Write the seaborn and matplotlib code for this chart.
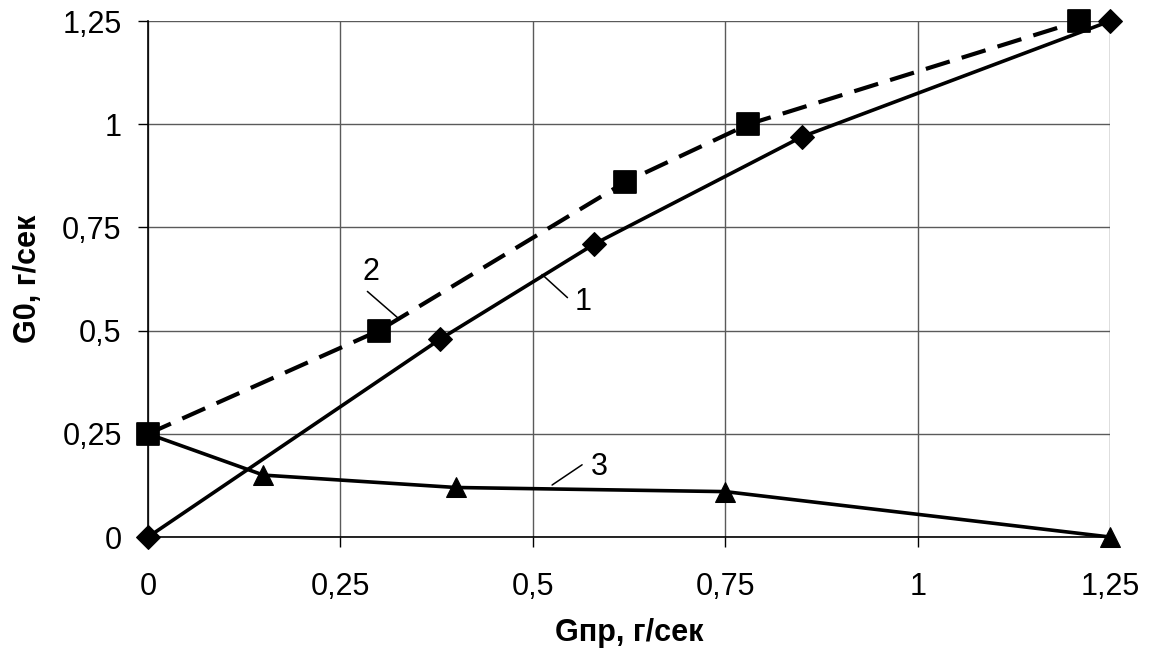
import matplotlib
matplotlib.use("Agg")
import numpy as np
import pandas as pd
import seaborn as sns
import matplotlib.pyplot as plt

# curve 1 (diamonds), curve 2 (squares, dashed), curve 3 (triangles)
g1_x = [0, 0.38, 0.58, 0.85, 1.25]
g1_y = [0, 0.48, 0.71, 0.97, 1.25]
g2_x = [0, 0.30, 0.62, 0.78, 1.21]
g2_y = [0.25, 0.50, 0.86, 1.00, 1.25]
g3_x = [0, 0.15, 0.40, 0.75, 1.25]
g3_y = [0.25, 0.15, 0.12, 0.11, 0]

ticks = [0, 0.25, 0.5, 0.75, 1, 1.25]
tick_labels = ["0", "0,25", "0,5", "0,75", "1", "1,25"]

# curve number labels: text position, leader start, leader end
labels = ["1", "2", "3"]
label_pos = [(0.565, 0.57), (0.29, 0.643), (0.587, 0.17)]
leader_from = [(0.545, 0.58), (0.285, 0.595), (0.564, 0.175)]
leader_to = [(0.512, 0.636), (0.327, 0.527), (0.525, 0.126)]

sns.set_theme(style="whitegrid")
plt.rcParams["font.family"] = ["Liberation Sans", "DejaVu Sans"]
plt.rcParams["text.color"] = "black"
plt.rcParams["axes.labelcolor"] = "black"
plt.rcParams["xtick.color"] = "black"
plt.rcParams["ytick.color"] = "black"

fig, ax = plt.subplots(figsize=(11.54, 6.59), dpi=100)
fig.subplots_adjust(left=0.1283, right=0.9619, top=0.968, bottom=0.1851)

df1 = pd.DataFrame({"x": g1_x, "y": g1_y})
df2 = pd.DataFrame({"x": g2_x, "y": g2_y})
df3 = pd.DataFrame({"x": g3_x, "y": g3_y})

sns.lineplot(data=df1, x="x", y="y", ax=ax, color="black", lw=2.6,
             marker="D", markersize=12, markeredgecolor="black", sort=False,
             clip_on=False, zorder=3)
sns.lineplot(data=df2, x="x", y="y", ax=ax, color="black", lw=3,
             dashes=False, sort=False, clip_on=False, zorder=3,
             linestyle=(0, (6, 3)))
sns.scatterplot(data=df2, x="x", y="y", ax=ax, color="black", marker="s",
                s=250, edgecolor="black", clip_on=False, zorder=4)
sns.lineplot(data=df3, x="x", y="y", ax=ax, color="black", lw=2.6,
             marker="^", markersize=15, markeredgecolor="black", sort=False,
             clip_on=False, zorder=3)

for lab, pos, a, b in zip(labels, label_pos, leader_from, leader_to):
    ax.text(pos[0], pos[1], lab, fontsize=22, ha="center", va="center",
            color="black")
    ax.plot([a[0], b[0]], [a[1], b[1]], color="black", lw=1.1)

ax.set_xlim(0, 1.25)
ax.set_ylim(0, 1.25)
ax.set_xticks(ticks)
ax.set_xticklabels(tick_labels)
ax.set_yticks(ticks)
ax.set_yticklabels(tick_labels)
ax.tick_params(axis="both", labelsize=22, length=7, width=1, colors="black",
               direction="out", bottom=True, left=True, pad=12)
ax.tick_params(axis="x", pad=18)
ax.grid(True, color="#5a5a5a", lw=1)

for side in ["top", "right"]:
    ax.spines[side].set_visible(False)
for side in ["left", "bottom"]:
    ax.spines[side].set_color("black")
    ax.spines[side].set_linewidth(1.2)

ax.set_xlabel("Gпр, г/сек", fontsize=22, fontweight="bold", labelpad=12)
ax.set_ylabel("G0, г/сек", fontsize=22, fontweight="bold", labelpad=14)

fig.savefig("out.png", dpi=100, facecolor="white")
